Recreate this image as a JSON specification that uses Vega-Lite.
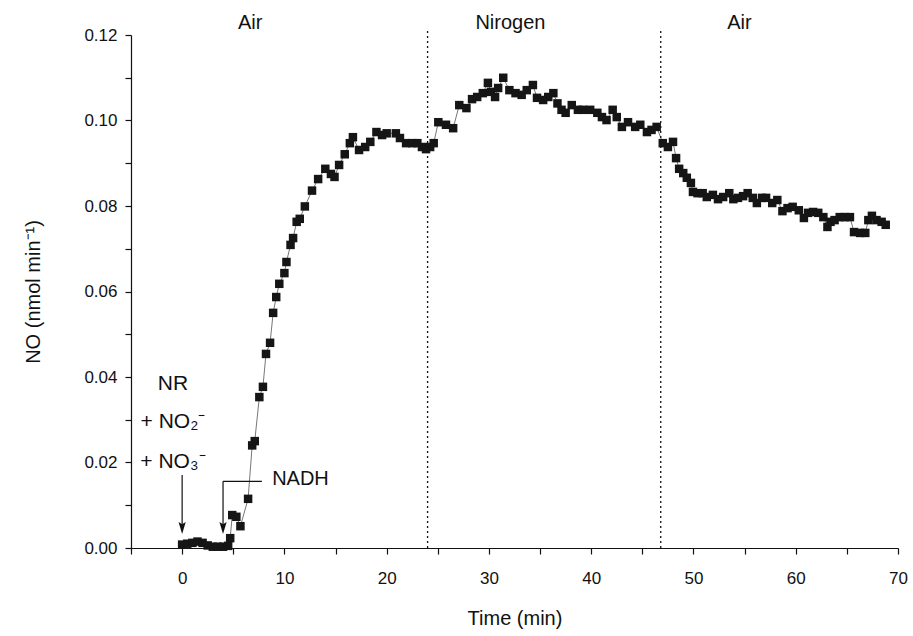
{
  "$schema": "https://vega.github.io/schema/vega-lite/v6.json",
  "width": 767,
  "height": 513,
  "autosize": {"type": "none"},
  "padding": {"left": 131, "top": 35, "right": 15, "bottom": 88},
  "background": "white",
  "config": {
    "view": {"stroke": null},
    "font": "Liberation Sans",
    "axis": {"grid": false, "domainColor": "#111", "tickColor": "#111", "labelColor": "#111", "titleColor": "#111", "labelFont": "Liberation Sans", "titleFont": "Liberation Sans", "labelFontSize": 17, "titleFontSize": 20, "titleFontWeight": "normal", "tickSize": 6, "domainWidth": 1.2, "tickWidth": 1.2}
  },
  "datasets": {
    "series": [
      {"t": 0, "no": 0.0008}, {"t": 0.5, "no": 0.001}, {"t": 1.0, "no": 0.0012}, {"t": 1.5, "no": 0.0015}, {"t": 2.0, "no": 0.0012},
      {"t": 2.5, "no": 0.0006}, {"t": 3.0, "no": 0.0003}, {"t": 3.5, "no": 0.0003}, {"t": 4.0, "no": 0.0003}, {"t": 4.5, "no": 0.0005},
      {"t": 4.7, "no": 0.0023}, {"t": 4.9, "no": 0.0077}, {"t": 5.3, "no": 0.0073}, {"t": 5.7, "no": 0.0051}, {"t": 6.45, "no": 0.0115},
      {"t": 6.85, "no": 0.024}, {"t": 7.1, "no": 0.025}, {"t": 7.55, "no": 0.0353}, {"t": 7.9, "no": 0.0377}, {"t": 8.2, "no": 0.0454},
      {"t": 8.6, "no": 0.048}, {"t": 8.9, "no": 0.055}, {"t": 9.2, "no": 0.0587}, {"t": 9.5, "no": 0.0618}, {"t": 10.0, "no": 0.0643},
      {"t": 10.2, "no": 0.0669}, {"t": 10.6, "no": 0.0709}, {"t": 10.85, "no": 0.0725}, {"t": 11.2, "no": 0.0763}, {"t": 11.5, "no": 0.077},
      {"t": 12.0, "no": 0.0799}, {"t": 12.7, "no": 0.0836}, {"t": 13.3, "no": 0.0863}, {"t": 14.0, "no": 0.0887}, {"t": 14.55, "no": 0.0875},
      {"t": 14.9, "no": 0.0868}, {"t": 15.35, "no": 0.0896}, {"t": 15.9, "no": 0.0921}, {"t": 16.4, "no": 0.0947}, {"t": 16.7, "no": 0.0961},
      {"t": 17.3, "no": 0.0931}, {"t": 17.9, "no": 0.0938}, {"t": 18.4, "no": 0.095}, {"t": 19.0, "no": 0.0973}, {"t": 19.55, "no": 0.0966},
      {"t": 20.0, "no": 0.097}, {"t": 20.9, "no": 0.097}, {"t": 21.3, "no": 0.0959}, {"t": 21.9, "no": 0.0947}, {"t": 22.5, "no": 0.0947},
      {"t": 23.0, "no": 0.0947}, {"t": 23.45, "no": 0.0938}, {"t": 23.85, "no": 0.0933}, {"t": 24.25, "no": 0.0938}, {"t": 24.6, "no": 0.0947},
      {"t": 25.05, "no": 0.0996}, {"t": 25.8, "no": 0.099}, {"t": 26.5, "no": 0.0982}, {"t": 27.1, "no": 0.1036}, {"t": 27.8, "no": 0.1029},
      {"t": 28.35, "no": 0.105}, {"t": 28.85, "no": 0.1055}, {"t": 29.4, "no": 0.1064}, {"t": 29.9, "no": 0.1088}, {"t": 30.2, "no": 0.1067},
      {"t": 30.6, "no": 0.1055}, {"t": 30.9, "no": 0.1076}, {"t": 31.4, "no": 0.11}, {"t": 32.0, "no": 0.1071}, {"t": 32.6, "no": 0.1064},
      {"t": 33.2, "no": 0.106}, {"t": 33.7, "no": 0.1071}, {"t": 34.3, "no": 0.1083}, {"t": 34.7, "no": 0.1053}, {"t": 35.3, "no": 0.1048},
      {"t": 35.8, "no": 0.1055}, {"t": 36.3, "no": 0.1064}, {"t": 36.7, "no": 0.104}, {"t": 37.1, "no": 0.1025}, {"t": 37.5, "no": 0.1018},
      {"t": 38.1, "no": 0.1036}, {"t": 38.7, "no": 0.1025}, {"t": 39.2, "no": 0.1025}, {"t": 39.9, "no": 0.1025}, {"t": 40.6, "no": 0.1018},
      {"t": 41.05, "no": 0.1008}, {"t": 41.5, "no": 0.1001}, {"t": 42.1, "no": 0.1025}, {"t": 42.5, "no": 0.1008}, {"t": 43.0, "no": 0.0985},
      {"t": 43.6, "no": 0.0996}, {"t": 44.3, "no": 0.0985}, {"t": 44.8, "no": 0.099}, {"t": 45.45, "no": 0.0973}, {"t": 45.9, "no": 0.0978},
      {"t": 46.4, "no": 0.0985}, {"t": 47.0, "no": 0.0947}, {"t": 47.5, "no": 0.0938}, {"t": 48.0, "no": 0.095}, {"t": 48.3, "no": 0.0912},
      {"t": 48.6, "no": 0.0887}, {"t": 49.0, "no": 0.0877}, {"t": 49.35, "no": 0.0866}, {"t": 49.75, "no": 0.0854}, {"t": 49.95, "no": 0.0833},
      {"t": 50.4, "no": 0.083}, {"t": 50.9, "no": 0.083}, {"t": 51.3, "no": 0.0821}, {"t": 51.9, "no": 0.0826}, {"t": 52.4, "no": 0.0816},
      {"t": 52.9, "no": 0.0821}, {"t": 53.5, "no": 0.083}, {"t": 53.9, "no": 0.0816}, {"t": 54.35, "no": 0.0819}, {"t": 54.85, "no": 0.0823},
      {"t": 55.3, "no": 0.083}, {"t": 55.8, "no": 0.0819}, {"t": 56.2, "no": 0.0807}, {"t": 56.7, "no": 0.0819}, {"t": 57.1, "no": 0.0819},
      {"t": 57.7, "no": 0.0807}, {"t": 58.2, "no": 0.0814}, {"t": 58.7, "no": 0.0788}, {"t": 59.2, "no": 0.0795}, {"t": 59.7, "no": 0.0798},
      {"t": 60.3, "no": 0.079}, {"t": 60.8, "no": 0.0772}, {"t": 61.2, "no": 0.0784}, {"t": 61.7, "no": 0.0786}, {"t": 62.2, "no": 0.0784},
      {"t": 62.7, "no": 0.0774}, {"t": 63.1, "no": 0.0751}, {"t": 63.4, "no": 0.0763}, {"t": 63.8, "no": 0.0767}, {"t": 64.3, "no": 0.0774},
      {"t": 64.8, "no": 0.0774}, {"t": 65.3, "no": 0.0774}, {"t": 65.7, "no": 0.0739}, {"t": 66.3, "no": 0.0737}, {"t": 66.8, "no": 0.0737},
      {"t": 67.1, "no": 0.0767}, {"t": 67.45, "no": 0.0777}, {"t": 67.9, "no": 0.0767}, {"t": 68.4, "no": 0.0763}, {"t": 68.8, "no": 0.0756}
    ],
    "phases": [
      {"x": 24.0, "y": 0, "y2": 0.1215},
      {"x": 46.8, "y": 0, "y2": 0.1215}
    ],
    "phaseLabels": [
      {"x": 6.65, "y": 0.1228, "label": "Air"},
      {"x": 32.1, "y": 0.1228, "label": "Nirogen"},
      {"x": 54.5, "y": 0.1228, "label": "Air"}
    ],
    "notes": [
      {"x": -0.9, "y": 0.0384, "label": "NR"},
      {"x": -0.9, "y": 0.0295, "label": "+ NO₂⁻"},
      {"x": -0.9, "y": 0.0201, "label": "+ NO₃⁻"}
    ],
    "arrowLines": [
      {"x": 0, "x2": 0, "y": 0.0171, "y2": 0.004},
      {"x": 4.0, "x2": 4.0, "y": 0.0156, "y2": 0.004},
      {"x": 4.0, "x2": 7.8, "y": 0.0156, "y2": 0.0156}
    ],
    "arrowHeads": [
      {"x": 0, "y": 0.0033},
      {"x": 4.0, "y": 0.0033}
    ],
    "nadh": [
      {"x": 8.8, "y": 0.0162, "label": "NADH"}
    ]
  },
  "layer": [
    {
      "data": {"name": "series"},
      "mark": {"type": "line", "color": "#777", "strokeWidth": 1},
      "encoding": {
        "x": {"field": "t", "type": "quantitative", "scale": {"domain": [-5, 70], "nice": false, "zero": false},
          "axis": {"title": "Time (min)", "values": [-5, 0, 5, 10, 15, 20, 25, 30, 35, 40, 45, 50, 55, 60, 65, 70], "labelExpr": "datum.value % 10 === 0 ? datum.label : ''", "labelPadding": 16, "titlePadding": 22, "labelFlush": false}},
        "y": {"field": "no", "type": "quantitative", "scale": {"domain": [0, 0.12], "nice": false},
          "axis": {"title": "NO (nmol min⁻¹)", "values": [0, 0.01, 0.02, 0.03, 0.04, 0.05, 0.06, 0.07, 0.08, 0.09, 0.1, 0.11, 0.12], "labelExpr": "round(datum.value * 100) % 2 === 0 ? format(datum.value, '.2f') : ''", "labelPadding": 8, "titlePadding": 40, "labelFlush": false}}
      }
    },
    {
      "data": {"name": "series"},
      "mark": {"type": "point", "shape": "square", "filled": true, "color": "#151515", "size": 72, "opacity": 1},
      "encoding": {
        "x": {"field": "t", "type": "quantitative"},
        "y": {"field": "no", "type": "quantitative"}
      }
    },
    {
      "data": {"name": "phases"},
      "mark": {"type": "rule", "color": "#111", "strokeWidth": 1.3, "strokeDash": [2, 3]},
      "encoding": {
        "x": {"field": "x", "type": "quantitative"},
        "y": {"field": "y", "type": "quantitative"},
        "y2": {"field": "y2"}
      }
    },
    {
      "data": {"name": "phaseLabels"},
      "mark": {"type": "text", "fontSize": 20, "color": "#111", "align": "center", "baseline": "middle"},
      "encoding": {
        "x": {"field": "x", "type": "quantitative"},
        "y": {"field": "y", "type": "quantitative"},
        "text": {"field": "label"}
      }
    },
    {
      "data": {"name": "notes"},
      "mark": {"type": "text", "fontSize": 21, "color": "#111", "align": "center", "baseline": "middle"},
      "encoding": {
        "x": {"field": "x", "type": "quantitative"},
        "y": {"field": "y", "type": "quantitative"},
        "text": {"field": "label"}
      }
    },
    {
      "data": {"name": "arrowLines"},
      "mark": {"type": "rule", "color": "#111", "strokeWidth": 1.2},
      "encoding": {
        "x": {"field": "x", "type": "quantitative"},
        "x2": {"field": "x2"},
        "y": {"field": "y", "type": "quantitative"},
        "y2": {"field": "y2"}
      }
    },
    {
      "data": {"name": "arrowHeads"},
      "mark": {"type": "point", "shape": "M-0.6,-2L0,0L0.6,-2L0,-1.6Z", "filled": true, "color": "#111", "size": 144, "opacity": 1},
      "encoding": {
        "x": {"field": "x", "type": "quantitative"},
        "y": {"field": "y", "type": "quantitative"}
      }
    },
    {
      "data": {"name": "nadh"},
      "mark": {"type": "text", "fontSize": 20, "color": "#111", "align": "left", "baseline": "middle"},
      "encoding": {
        "x": {"field": "x", "type": "quantitative"},
        "y": {"field": "y", "type": "quantitative"},
        "text": {"field": "label"}
      }
    }
  ]
}
